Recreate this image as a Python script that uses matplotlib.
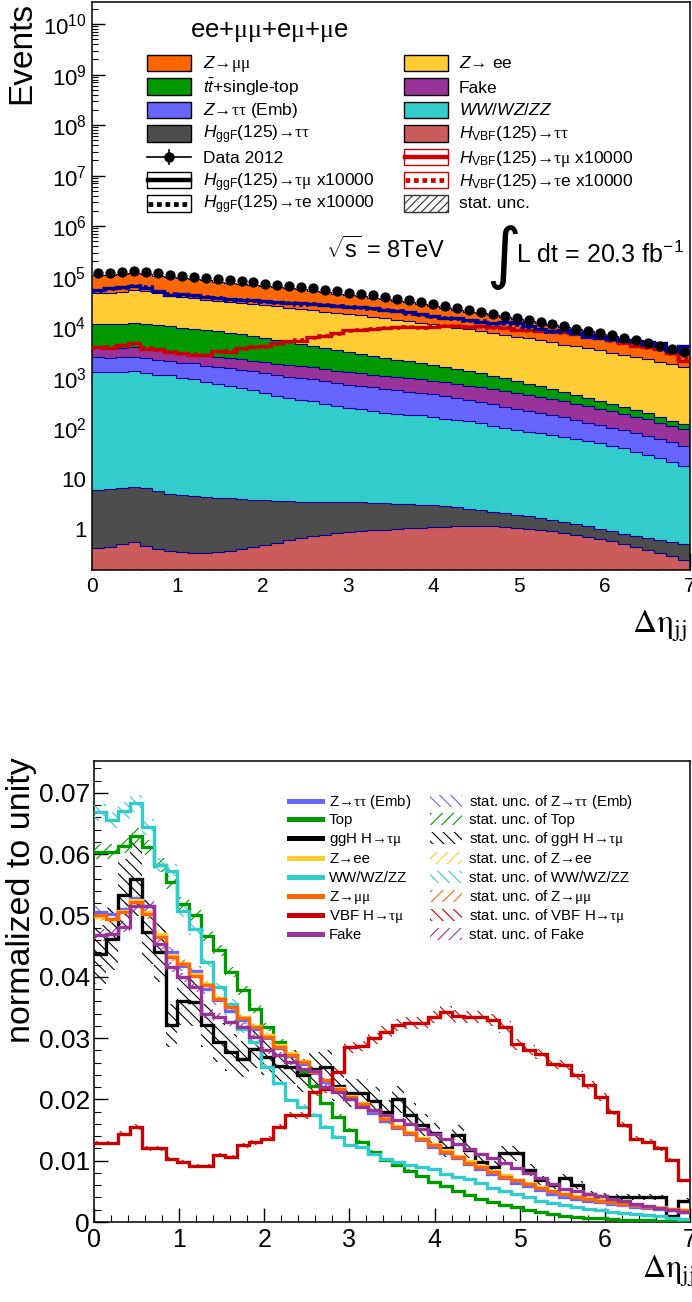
import numpy as np
import matplotlib
matplotlib.use('Agg')
import matplotlib.pyplot as plt
from matplotlib.patches import Rectangle
from matplotlib.lines import Line2D
from matplotlib.transforms import Affine2D
from matplotlib.ticker import MultipleLocator, FixedLocator, FuncFormatter, LogLocator, NullFormatter

plt.rcParams['font.family'] = ['Liberation Sans', 'DejaVu Sans']
plt.rcParams['mathtext.fontset'] = 'custom'
plt.rcParams['mathtext.rm'] = 'Liberation Sans'
plt.rcParams['mathtext.it'] = 'Liberation Sans:italic'
plt.rcParams['mathtext.bf'] = 'Liberation Sans:bold'
plt.rcParams['mathtext.sf'] = 'Liberation Serif'
plt.rcParams['hatch.linewidth'] = 0.8
plt.rcParams['axes.linewidth'] = 1.1

# ---------------- data ----------------
x_min, x_max, n_bins = 0.0, 7.0, 50

# top panel: event yields per bin (stacked backgrounds)
vbf_tautau = [0.42, 0.44, 0.50, 0.56, 0.47, 0.40, 0.37, 0.35, 0.34, 0.34, 0.35, 0.37, 0.40, 0.44, 0.49, 0.54, 0.60,
              0.66, 0.72, 0.77, 0.82, 0.86, 0.90, 0.94, 0.98, 1.01, 1.04, 1.07, 1.10, 1.12, 1.14, 1.15, 1.15, 1.13,
              1.10, 1.06, 1.02, 0.96, 0.90, 0.84, 0.78, 0.71, 0.64, 0.57, 0.50, 0.44, 0.39, 0.34, 0.29, 0.24]
ggf_tautau = [5.6, 5.7, 6.0, 6.4, 6.0, 5.2, 4.6, 4.3, 4.2, 4.0, 3.8, 3.7, 3.5, 3.35, 3.25, 3.1, 2.95, 2.85, 2.8, 2.75,
              2.7, 2.62, 2.5, 2.35, 2.25, 2.15, 2.05, 1.95, 1.85, 1.7, 1.55, 1.35, 1.2, 1.1, 0.98, 0.88, 0.78, 0.68,
              0.6, 0.55, 0.5, 0.44, 0.38, 0.34, 0.31, 0.29, 0.27, 0.27, 0.26, 0.26]
ww_wz_zz = [1296, 1271, 1302, 1325, 1249, 1129, 1112, 986, 927, 823, 743, 691, 611, 568, 491, 438, 386, 365, 338, 301,
            270, 243, 237, 215, 200, 190, 180, 175, 167, 151, 144, 136, 122, 107, 97, 91, 83, 78, 72, 66, 60, 54, 49,
            43, 39, 33, 29, 25, 21, 17]
z_tautau = [1210, 1200, 1230, 1270, 1240, 1120, 1060, 1000, 980, 910, 870, 830, 790, 755, 720, 680, 650, 620, 585, 545,
            515, 480, 455, 425, 395, 370, 345, 322, 300, 280, 245, 225, 205, 186, 168, 150, 135, 120, 107, 95, 84, 74,
            65, 58, 52, 46, 41, 36, 31, 27]
fake = [1310, 1316, 1350, 1442, 1442, 1271, 1165, 1117, 1072, 952, 935, 913, 890, 846, 784, 762, 731, 700, 692, 616,
        594, 563, 526, 510, 487, 465, 448, 426, 400, 378, 356, 333, 311, 291, 272, 255, 235, 216, 196, 179, 162, 146,
        129, 115, 101, 90, 78, 67, 59, 50]
top_bkg = [7700, 7700, 7900, 8100, 7800, 7500, 7100, 6700, 6400, 6000, 5700, 5200, 4900, 4500, 4100, 3800, 3500, 3000,
           2650, 2400, 2150, 1900, 1680, 1500, 1350, 1220, 1120, 1020, 930, 840, 760, 680, 600, 500, 430, 370, 310,
           260, 215, 180, 150, 125, 105, 88, 72, 60, 48, 38, 30, 24]
z_ee = [36000, 37000, 39000, 43000, 40000, 36000, 32000, 29500, 28000, 26500, 25000, 24000, 23000, 22000, 21000,
        20000, 19200, 18500, 17500, 16500, 15800, 15000, 14200, 13300, 12500, 11700, 11000, 10200, 9500, 8900, 8300,
        7700, 7100, 6600, 6100, 5600, 5200, 4800, 4400, 4000, 3700, 3400, 3100, 2800, 2550, 2300, 2100, 1900, 1700, 1500]
z_mumu = [61000, 60000, 62000, 65000, 62000, 58000, 55000, 53000, 51000, 49000, 46000, 44000, 42000, 40000, 38000,
          36000, 34000, 32500, 30500, 29000, 27000, 25500, 24000, 22500, 21000, 19300, 17700, 16200, 14800, 13500,
          12400, 11300, 10300, 9400, 8600, 7800, 7100, 6500, 5900, 5400, 4900, 4400, 3950, 3500, 3100, 2700, 2350,
          2000, 1650, 1350]
data_2012 = [118000, 117000, 122000, 130000, 124000, 116000, 109000, 104000, 100000, 95000, 90000, 86000, 82000,
             78000, 73000, 69000, 65500, 62000, 58500, 55000, 52000, 48500, 45500, 42500, 39500, 36500, 34000, 31200,
             28500, 26200, 24000, 22000, 20000, 18300, 16700, 15200, 13800, 12600, 11400, 10400, 9400, 8500, 7700,
             6900, 6200, 5500, 4900, 4300, 3700, 3200]
# signals x10000
ggf_taumu_x1e4 = [55000, 59000, 63000, 66000, 59000, 52000, 44000, 45000, 43000, 40000, 38000, 36000, 35000, 34000,
                  32500, 31000, 30000, 29500, 29000, 28000, 26500, 25500, 25000, 23500, 22000, 21000, 19500, 18000,
                  16500, 15000, 15500, 14000, 12500, 12000, 12800, 12000, 10500, 9000, 8200, 8600, 7600, 6500, 6200,
                  5800, 5600, 5300, 5000, 4800, 3300, 4200]
ggf_taue_x1e4 = [52000, 56000, 60000, 64000, 61000, 50000, 46000, 42000, 41000, 39000, 37000, 35000, 34500, 33000,
                 31500, 30500, 29500, 28000, 28500, 27000, 26000, 24500, 24000, 22500, 21500, 20500, 18500, 17500,
                 16000, 15500, 14500, 13500, 13000, 11500, 11500, 11000, 9800, 9400, 8000, 8000, 7200, 6800, 6000,
                 5500, 5200, 5000, 4400, 4200, 3600, 3600]
vbf_taumu_x1e4 = [3960, 3900, 4450, 4800, 3700, 3650, 3150, 3050, 2800, 2850, 3300, 3250, 3800, 4000, 4150, 4750, 5300,
                  5400, 6500, 6650, 7500, 8700, 8800, 9200, 9500, 9900, 9900, 10000, 10200, 10500, 10300, 10200,
                  10300, 10100, 9700, 8900, 8600, 8400, 7900, 7850, 7350, 6850, 6250, 5550, 4850, 4200, 4000, 3700,
                  3100, 2100]
vbf_taue_x1e4 = [3800, 4000, 4300, 4600, 3900, 3500, 3250, 2950, 2900, 2750, 3200, 3400, 3650, 4100, 4050, 4600, 5100,
                 5600, 6200, 6800, 7300, 8400, 8900, 9000, 9700, 9700, 10100, 9800, 10400, 10300, 10400, 10000, 10100,
                 9800, 9500, 9100, 8400, 8200, 8000, 7600, 7200, 6600, 6300, 5400, 5000, 4300, 3800, 3600, 3000, 2300]

# bottom panel: normalized shapes
norm_ztautau = [0.0506, 0.0503, 0.0510, 0.0528, 0.0515, 0.0468, 0.0440, 0.0418, 0.0410, 0.0380, 0.0362, 0.0345,
                0.0330, 0.0315, 0.0300, 0.0284, 0.0270, 0.0258, 0.0243, 0.0228, 0.0214, 0.0201, 0.0190, 0.0178,
                0.0165, 0.0153, 0.0143, 0.0133, 0.0123, 0.0113, 0.0104, 0.0095, 0.0087, 0.0079, 0.0071, 0.0064,
                0.0058, 0.0052, 0.0046, 0.0040, 0.0037, 0.0034, 0.0032, 0.0029, 0.0027, 0.0025, 0.0023, 0.0021,
                0.0019, 0.0017]
norm_top = [0.0604, 0.0604, 0.0614, 0.0630, 0.0611, 0.0582, 0.0554, 0.0519, 0.0500, 0.0467, 0.0443, 0.0408, 0.0378,
            0.0348, 0.0318, 0.0293, 0.0272, 0.0245, 0.0222, 0.0194, 0.0172, 0.0150, 0.0131, 0.0115, 0.0101, 0.0093,
            0.0084, 0.0075, 0.0066, 0.0058, 0.0051, 0.0044, 0.0038, 0.0033, 0.0028, 0.0024, 0.0020, 0.0016, 0.0013,
            0.0010, 0.0008, 0.0007, 0.0006, 0.0005, 0.0004, 0.0003, 0.0003, 0.0002, 0.0002, 0.0001]
norm_ggh = [0.0437, 0.0462, 0.0533, 0.0560, 0.0473, 0.0440, 0.0321, 0.0361, 0.0359, 0.0321, 0.0293, 0.0277, 0.0266,
            0.0283, 0.0269, 0.0255, 0.0253, 0.0239, 0.0250, 0.0253, 0.0222, 0.0210, 0.0210, 0.0198, 0.0180, 0.0200,
            0.0175, 0.0158, 0.0145, 0.0120, 0.0142, 0.0117, 0.0098, 0.0090, 0.0112, 0.0112, 0.0085, 0.0068, 0.0060,
            0.0071, 0.0060, 0.0045, 0.0043, 0.0041, 0.0041, 0.0041, 0.0041, 0.0040, 0.0009, 0.0035]
norm_zee = [0.0498, 0.0494, 0.0507, 0.0525, 0.0505, 0.0470, 0.0436, 0.0423, 0.0405, 0.0388, 0.0366, 0.0353, 0.0334,
            0.0320, 0.0305, 0.0289, 0.0275, 0.0262, 0.0246, 0.0232, 0.0218, 0.0205, 0.0194, 0.0183, 0.0170, 0.0157,
            0.0147, 0.0137, 0.0127, 0.0117, 0.0108, 0.0099, 0.0091, 0.0083, 0.0076, 0.0069, 0.0063, 0.0057, 0.0051,
            0.0046, 0.0042, 0.0039, 0.0036, 0.0033, 0.0030, 0.0028, 0.0026, 0.0024, 0.0022, 0.0020]
norm_ww = [0.0668, 0.0655, 0.0671, 0.0683, 0.0644, 0.0582, 0.0573, 0.0508, 0.0478, 0.0424, 0.0383, 0.0356, 0.0315,
           0.0293, 0.0253, 0.0226, 0.0199, 0.0188, 0.0174, 0.0155, 0.0139, 0.0125, 0.0122, 0.0111, 0.0103, 0.0098,
           0.0093, 0.0090, 0.0086, 0.0078, 0.0074, 0.0070, 0.0063, 0.0055, 0.0050, 0.0045, 0.0040, 0.0035, 0.0031,
           0.0027, 0.0025, 0.0022, 0.0019, 0.0017, 0.0015, 0.0013, 0.0011, 0.0009, 0.0007, 0.0005]
norm_zmumu = [0.0500, 0.0495, 0.0505, 0.0522, 0.0502, 0.0465, 0.0432, 0.0421, 0.0402, 0.0386, 0.0364, 0.0351, 0.0332,
              0.0318, 0.0302, 0.0286, 0.0272, 0.0261, 0.0245, 0.0231, 0.0217, 0.0204, 0.0193, 0.0182, 0.0168, 0.0155,
              0.0145, 0.0135, 0.0125, 0.0115, 0.0106, 0.0097, 0.0089, 0.0081, 0.0074, 0.0068, 0.0062, 0.0056, 0.0050,
              0.0045, 0.0041, 0.0038, 0.0035, 0.0032, 0.0029, 0.0027, 0.0025, 0.0023, 0.0021, 0.0019]
norm_vbf = [0.0129, 0.0129, 0.0144, 0.0155, 0.0120, 0.0120, 0.0103, 0.0098, 0.0092, 0.0092, 0.0109, 0.0106, 0.0125,
            0.0130, 0.0136, 0.0155, 0.0174, 0.0174, 0.0212, 0.0217, 0.0245, 0.0285, 0.0287, 0.0300, 0.0310, 0.0322,
            0.0324, 0.0325, 0.0334, 0.0342, 0.0336, 0.0334, 0.0334, 0.0329, 0.0318, 0.0290, 0.0281, 0.0274, 0.0258,
            0.0256, 0.0239, 0.0223, 0.0204, 0.0180, 0.0158, 0.0136, 0.0131, 0.0120, 0.0101, 0.0068]
norm_fake = [0.0468, 0.0470, 0.0482, 0.0515, 0.0515, 0.0454, 0.0416, 0.0399, 0.0383, 0.0340, 0.0334, 0.0326, 0.0318,
             0.0302, 0.0280, 0.0272, 0.0261, 0.0250, 0.0247, 0.0220, 0.0212, 0.0201, 0.0188, 0.0182, 0.0174, 0.0166,
             0.0160, 0.0152, 0.0143, 0.0135, 0.0127, 0.0119, 0.0111, 0.0104, 0.0097, 0.0088, 0.0080, 0.0071, 0.0062,
             0.0054, 0.0050, 0.0046, 0.0042, 0.0038, 0.0034, 0.0030, 0.0026, 0.0023, 0.0020, 0.0017]
# relative stat. uncertainty of each normalized shape
rel_unc = {'ztt': 0.02, 'top': 0.02, 'ggh': 0.11, 'zee': 0.015, 'ww': 0.02, 'zmm': 0.015, 'vbf': 0.03, 'fake': 0.02}

# ---------------- figure ----------------
W, H = 692, 1302
fig = plt.figure(figsize=(W / 100, H / 100), dpi=100)
PX = Affine2D().scale(1.0 / W, -1.0 / H).translate(0, 1) + fig.transFigure


def ax_rect(l, t, r, b):
    return [l / W, 1 - b / H, (r - l) / W, (b - t) / H]


edges = np.linspace(x_min, x_max, n_bins + 1)
centers = 0.5 * (edges[1:] + edges[:-1])

C_ZMM, C_ZEE, C_TOP, C_FAKE = '#FF6600', '#FFCC33', '#009900', '#993399'
C_ZTT, C_WW, C_GGF, C_VBF = '#6666FF', '#33CCCC', '#4D4D4D', '#CC5C5C'
C_NAVY, C_RED = '#000099', '#CC0000'
ARW = '\u2192'

# ---------- top panel ----------
ax1 = fig.add_axes(ax_rect(92, 2, 690, 570))
stack = [(vbf_tautau, C_VBF), (ggf_tautau, C_GGF), (ww_wz_zz, C_WW), (z_tautau, C_ZTT),
         (fake, C_FAKE), (top_bkg, C_TOP), (z_ee, C_ZEE), (z_mumu, C_ZMM)]
cum = np.zeros(n_bins)
for vals, col in stack:
    new = cum + np.asarray(vals, dtype=float)
    ax1.stairs(new, edges, baseline=np.maximum(cum, 1e-3), fill=True, color=col, lw=0, zorder=2)
    ax1.stairs(new, edges, baseline=None, color=C_NAVY, lw=0.8, zorder=3)
    cum = new

ax1.stairs(vbf_taue_x1e4, edges, baseline=None, color=C_RED, lw=2.6, ls=(0, (1, 1)), zorder=4)
ax1.stairs(vbf_taumu_x1e4, edges, baseline=None, color=C_RED, lw=2.4, zorder=4)
ax1.stairs(ggf_taue_x1e4, edges, baseline=None, color=C_NAVY, lw=2.6, ls=(0, (1, 1)), zorder=5)
ax1.stairs(ggf_taumu_x1e4, edges, baseline=None, color=C_NAVY, lw=2.4, zorder=5)
d = np.asarray(data_2012, dtype=float)
ax1.errorbar(centers, d, yerr=np.sqrt(d), fmt='o', color='black', ms=6.4, elinewidth=1, capsize=0, zorder=6)

ax1.set_yscale('log')
ax1.set_xlim(x_min, x_max)
ax1.set_ylim(0.155, 2.75e10)
ax1.yaxis.set_major_locator(FixedLocator([10.0 ** k for k in range(0, 11)]))


def logfmt(v, pos):
    k = int(round(np.log10(v)))
    if k == 0:
        return '1'
    if k == 1:
        return '10'
    return r'$10^{%d}$' % k


ax1.yaxis.set_major_formatter(FuncFormatter(logfmt))
ax1.yaxis.set_minor_locator(LogLocator(base=10, subs=np.arange(2, 10), numticks=40))
ax1.yaxis.set_minor_formatter(NullFormatter())
ax1.xaxis.set_major_locator(MultipleLocator(1))
ax1.xaxis.set_minor_locator(MultipleLocator(0.2))
ax1.tick_params(which='both', direction='in', top=False, right=False)
ax1.tick_params(axis='y', which='major', length=9, width=1, pad=4, labelsize=16)
ax1.tick_params(axis='y', which='minor', length=4.5, width=0.8)
ax1.tick_params(axis='x', which='major', length=12, width=1, pad=5, labelsize=15)
ax1.tick_params(axis='x', which='minor', length=6, width=0.8)

# ---------- bottom panel ----------
shapes = [('ztt', norm_ztautau, '#6666FF', '\\\\\\', 'Z' + ARW + r'$\mathsf{\tau\tau}$ (Emb)'),
          ('top', norm_top, '#009900', '///', 'Top'),
          ('ggh', norm_ggh, '#000000', '\\\\\\', 'ggH H' + ARW + r'$\mathsf{\tau\mu}$'),
          ('zee', norm_zee, '#FFCC33', '///', 'Z' + ARW + 'ee'),
          ('ww', norm_ww, '#33CCCC', '\\\\\\', 'WW/WZ/ZZ'),
          ('zmm', norm_zmumu, '#FF6600', '///', 'Z' + ARW + r'$\mathsf{\mu\mu}$'),
          ('vbf', norm_vbf, '#CC0000', '\\\\\\', 'VBF H' + ARW + r'$\mathsf{\tau\mu}$'),
          ('fake', norm_fake, '#993399', '///', 'Fake')]
ax2 = fig.add_axes(ax_rect(94, 761, 690, 1222))
for i, (key, vals, col, hat, lab) in enumerate(shapes):
    v = np.asarray(vals, dtype=float)
    r = rel_unc[key]
    ax2.stairs(v * (1 + r), edges, baseline=v * (1 - r), fill=True, facecolor='none', edgecolor=col,
               hatch=hat, lw=0, zorder=2 + i)
for i, (key, vals, col, hat, lab) in enumerate(shapes):
    ax2.stairs(vals, edges, baseline=None, color=col, lw=2.4, zorder=12 + i)

ax2.set_xlim(x_min, x_max)
ax2.set_ylim(0, 0.0752)
ax2.xaxis.set_major_locator(MultipleLocator(1))
ax2.xaxis.set_minor_locator(MultipleLocator(0.2))
ax2.yaxis.set_major_locator(MultipleLocator(0.01))
ax2.yaxis.set_minor_locator(MultipleLocator(0.002))
ax2.yaxis.set_major_formatter(FuncFormatter(lambda v, p: '0' if abs(v) < 1e-9 else '%.2f' % v))
ax2.tick_params(which='both', direction='in', top=False, right=False)
ax2.tick_params(axis='y', which='major', length=10, width=1, labelsize=19, pad=3)
ax2.tick_params(axis='y', which='minor', length=5, width=0.8)
ax2.tick_params(axis='x', which='major', length=10, width=1, labelsize=18, pad=4)
ax2.tick_params(axis='x', which='minor', length=5, width=0.8)

# ---------- axis titles ----------
fig.text(22, 2, 'Events', transform=PX, rotation=90, ha='center', va='top', fontsize=24)
fig.text(22, 757, 'normalized to unity', transform=PX, rotation=90, ha='center', va='top', fontsize=24.5)
fig.text(632, 632, r'$\Delta\mathrm{\eta}_{\mathrm{jj}}$', transform=PX, ha='left', va='baseline', fontsize=24,
         math_fontfamily='stix')
fig.text(642, 1278, r'$\Delta\mathrm{\eta}_{\mathrm{jj}}$', transform=PX, ha='left', va='baseline', fontsize=23,
         math_fontfamily='stix')

# ---------- top legend ----------
fig.text(190, 37, r'ee+$\mathsf{\mu\mu}$+e$\mathsf{\mu}$+$\mathsf{\mu}$e', transform=PX, fontsize=18.5,
         va='baseline')
rows = [(55, 71, 68), (78, 95, 93), (102, 118, 115), (125, 142, 138), (149, 165, 163), (172, 188, 186),
        (195, 212, 208)]
FS_L = 12.5


def box(x0, r, face, edge='black', hatch=None):
    t, b, _ = rows[r]
    p = Rectangle((x0, t), 44, b - t, transform=PX, facecolor=face, edgecolor=edge, lw=1.0, hatch=hatch)
    fig.add_artist(p)


def label(x0, r, s):
    fig.text(x0, rows[r][2], s, transform=PX, fontsize=FS_L, va='baseline', ha='left')


def linesample(x0, r, col, ls='-', lw=3.2):
    t, b, _ = rows[r]
    yc = 0.5 * (t + b)
    fig.add_artist(Line2D([x0 + 1, x0 + 43], [yc, yc], transform=PX, color=col, lw=lw, ls=ls))


LX, RX = 147, 404
box(LX, 0, C_ZMM); label(203, 0, r'$Z$' + ARW + r'$\mathsf{\mu\mu}$')
box(RX, 0, C_ZEE); label(459, 0, r'$Z$' + ARW + ' ee')
box(LX, 1, C_TOP); label(203, 1, r'$t\bar{t}$+single-top')
box(RX, 1, C_FAKE); label(459, 1, 'Fake')
box(LX, 2, C_ZTT); label(203, 2, r'$Z$' + ARW + r'$\mathsf{\tau\tau}$ (Emb)')
box(RX, 2, C_WW); label(459, 2, r'$WW/WZ/ZZ$')
box(LX, 3, C_GGF); label(203, 3, r'$H_{\mathrm{ggF}}$(125)' + ARW + r'$\mathsf{\tau\tau}$')
box(RX, 3, C_VBF); label(459, 3, r'$H_{\mathrm{VBF}}$(125)' + ARW + r'$\mathsf{\tau\tau}$')
fig.add_artist(Line2D([LX, LX + 44], [157, 157], transform=PX, color='black', lw=1.2))
fig.add_artist(Line2D([LX + 22, LX + 22], [150, 164], transform=PX, color='black', lw=1.2))
fig.add_artist(Line2D([LX + 22], [157], transform=PX, color='black', marker='o', ms=6.5, ls='none'))
fig.text(203, 163, 'Data 2012', transform=PX, fontsize=FS_L, va='baseline')
box(RX, 4, 'white', edge=C_RED); linesample(RX, 4, C_RED)
label(459, 4, r'$H_{\mathrm{VBF}}$(125)' + ARW + r'$\mathsf{\tau\mu}$ x10000')
box(LX, 5, 'white'); linesample(LX, 5, 'black')
label(203, 5, r'$H_{\mathrm{ggF}}$(125)' + ARW + r'$\mathsf{\tau\mu}$ x10000')
box(RX, 5, 'white', edge=C_RED); linesample(RX, 5, C_RED, ls=(0, (1, 0.8)), lw=3.4)
label(459, 5, r'$H_{\mathrm{VBF}}$(125)' + ARW + r'$\mathsf{\tau}$e x10000')
box(LX, 6, 'white'); linesample(LX, 6, 'black', ls=(0, (1, 0.8)), lw=3.4)
label(203, 6, r'$H_{\mathrm{ggF}}$(125)' + ARW + r'$\mathsf{\tau}$e x10000')
box(RX, 6, 'white', edge='#333333', hatch='////'); label(459, 6, 'stat. unc.')

# energy / lumi text
fig.text(326, 258, r'$\sqrt{\mathrm{s}}$ = 8TeV', transform=PX, fontsize=17, va='baseline')
fig.text(486, 276, '\u222b', transform=PX, fontsize=48, va='baseline', family='DejaVu Sans')
fig.text(516, 263, r'L dt = 20.3 fb$^{\mathrm{-1}}$', transform=PX, fontsize=18, va='baseline')

# ---------- bottom legend ----------
brow = [800.7, 819.3, 838.3, 857.7, 876.7, 895.7, 915.0, 934.0]
for i, (key, vals, col, hat, lab) in enumerate(shapes):
    yc = brow[i]
    fig.add_artist(Line2D([289, 322], [yc, yc], transform=PX, color=col, lw=3.6))
    fig.text(329, yc + 5, lab, transform=PX, fontsize=10.8, va='baseline')
    fig.add_artist(Rectangle((430, yc - 6), 32, 12, transform=PX, facecolor='none', edgecolor=col, lw=0,
                             hatch=hat))
    fig.text(469, yc + 5, 'stat. unc. of ' + lab, transform=PX, fontsize=10.8, va='baseline')

fig.savefig('out.png', dpi=100)
